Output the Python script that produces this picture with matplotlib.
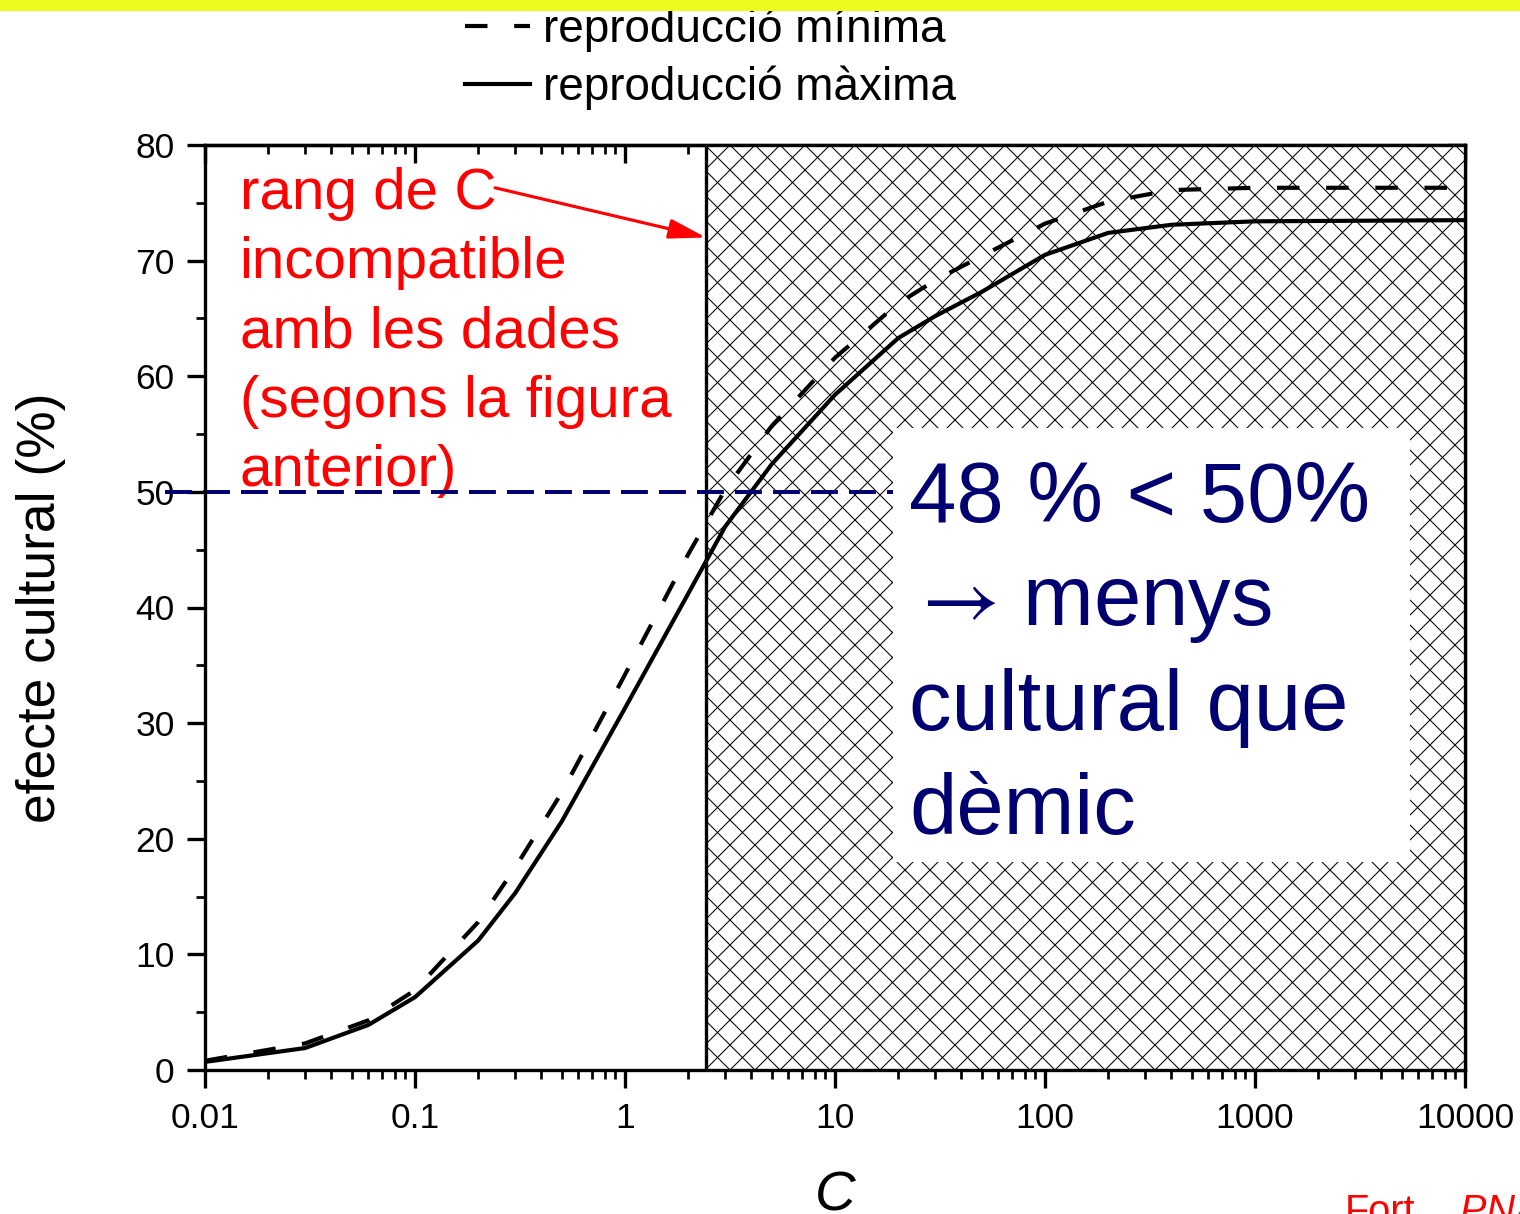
# -- Imports ------------------------------------------------------------------
import numpy as np
import matplotlib
matplotlib.use('Agg')
import matplotlib.pyplot as plt
from matplotlib.collections import LineCollection
from matplotlib.patches import Rectangle
from matplotlib.ticker import FixedLocator, LogLocator, MultipleLocator, NullFormatter, FuncFormatter

# -- Data ---------------------------------------------------------------------
c_values = [0.01, 0.03, 0.06, 0.1, 0.2, 0.3, 0.5, 1, 2, 3, 5, 10,
            20, 30, 50, 100, 200, 400, 1000, 10000]
effect_max = [0.7, 1.9, 3.9, 6.3, 11.2, 15.3, 21.5, 31.3, 41.2, 47.0, 52.4, 58.4,
              63.3, 65.2, 67.3, 70.5, 72.4, 73.1, 73.4, 73.5]
effect_min = [0.8, 2.3, 4.3, 6.9, 12.8, 17.5, 24.0, 34.2, 44.6, 50.2, 55.7, 61.6,
              66.3, 68.3, 70.4, 73.2, 75.1, 76.1, 76.3, 76.3]

x_ticks = [0.01, 0.1, 1, 10, 100, 1000, 10000]
legend_labels = ['reproducció mínima', 'reproducció màxima']
C_CUT = 2.43        # lower limit of the incompatible range
THRESHOLD = 50      # 50 % line

note_red = 'rang de C\nincompatible\namb les dades\n(segons la figura\nanterior)'
note_blue = '48 % < 50%\n$\\rightarrow\\,$menys\ncultural que\ndèmic'

NAVY = '#000070'
DPI = 150
AX_W, AX_H = 1260, 925      # axes size in pixels
HATCH_STEP = 25             # hatch period in pixels

# -- Figure -------------------------------------------------------------------
plt.rcParams['font.family'] = ['Liberation Sans', 'DejaVu Sans']
plt.rcParams['mathtext.fontset'] = 'stix'

fig = plt.figure(figsize=(1520 / DPI, 1214 / DPI), dpi=DPI)
ax = fig.add_axes([205 / 1520, 1 - 1070 / 1214, AX_W / 1520, AX_H / 1214])
ax.set_xscale('log')
ax.set_xlim(x_ticks[0], x_ticks[-1])
ax.set_ylim(0, 80)

# hatched region: white span + 45 degree cross lines clipped to it
span = ax.axvspan(C_CUT, x_ticks[-1], facecolor='white', edgecolor='none', zorder=1)
rise = AX_H / AX_W
step = HATCH_STEP / AX_W
segs = []
for a in np.arange(-rise, 1 + step, step):
    segs.append([(a, 0), (a + rise, 1)])
    segs.append([(a + rise, 0), (a, 1)])
hatch = LineCollection(segs, colors='black', linewidths=0.5,
                       transform=ax.transAxes, zorder=2)
ax.add_collection(hatch)
hatch.set_clip_path(span)
ax.axvline(C_CUT, color='black', lw=1.6, zorder=3)

# curves
ax.plot(c_values, effect_min, color='black', lw=2.0, dashes=(5.4, 6.4),
        label=legend_labels[0], zorder=4)
ax.plot(c_values, effect_max, color='black', lw=2.0,
        label=legend_labels[1], zorder=4)

# 50 % reference line
ax.axhline(THRESHOLD, xmin=-0.032, xmax=0.6, color=NAVY, lw=1.9,
           dashes=(6.8, 2.8), clip_on=False, zorder=6)

# white box + blue note
ax.add_patch(Rectangle((0.546, 0.2249), 0.4103, 0.4692, transform=ax.transAxes,
                       facecolor='white', edgecolor='none', zorder=7))
ax.text(22.5, 52.76, note_blue, color=NAVY, fontsize=40.8, linespacing=1.375,
        ha='left', va='top', zorder=8)

# red note and arrow
ax.text(0.0146, 78.1, note_red, color='red', fontsize=28, linespacing=1.365,
        ha='left', va='top', zorder=5)
ax.annotate('', xy=(C_CUT, 72), xytext=(0.2404, 76.3),
            arrowprops=dict(arrowstyle='-|>,head_length=0.75,head_width=0.2',
                            color='red', lw=1.5, mutation_scale=20,
                            shrinkA=0, shrinkB=0), zorder=9)

# -- Axes styling -------------------------------------------------------------
ax.xaxis.set_major_locator(FixedLocator(x_ticks))
ax.xaxis.set_minor_locator(LogLocator(base=10, subs=np.arange(2, 10), numticks=100))
ax.xaxis.set_major_formatter(FuncFormatter(lambda v, p: f'{v:g}'))
ax.xaxis.set_minor_formatter(NullFormatter())
ax.yaxis.set_major_locator(MultipleLocator(10))
ax.yaxis.set_minor_locator(MultipleLocator(5))

ax.tick_params(which='major', direction='out', length=8.6, width=1.6,
               labelsize=17, top=False, right=False)
ax.tick_params(which='minor', direction='out', length=4.3, width=1.3,
               top=False, right=False)
ax.tick_params(axis='x', which='major', pad=7)
ax.tick_params(axis='y', which='major', pad=6)
for s in ax.spines.values():
    s.set_linewidth(1.6)
    s.set_zorder(10)

top = ax.secondary_xaxis('top')
top.xaxis.set_major_locator(FixedLocator(x_ticks))
top.xaxis.set_minor_locator(LogLocator(base=10, subs=np.arange(2, 10), numticks=100))
top.tick_params(which='major', direction='in', length=8.6, width=1.6, labeltop=False)
top.tick_params(which='minor', direction='in', length=4.3, width=1.3)
top.spines['top'].set_linewidth(1.6)

right = ax.secondary_yaxis('right')
right.yaxis.set_major_locator(MultipleLocator(10))
right.yaxis.set_minor_locator(MultipleLocator(5))
right.tick_params(which='major', direction='in', length=8.6, width=1.6, labelright=False)
right.tick_params(which='minor', direction='in', length=4.3, width=1.3)
right.spines['right'].set_linewidth(1.6)

ax.set_xlabel('C', fontsize=27, style='italic', labelpad=17)
ax.set_ylabel('efecte cultural (%)', fontsize=25.6, labelpad=33)

# legend above the plot
fig.legend(loc='upper left', bbox_to_anchor=(465 / 1520, 1 - 8 / 1214),
           frameon=False, fontsize=22, handlelength=1.42, handletextpad=0.28,
           labelspacing=0.28, borderpad=0, borderaxespad=0)

# reference, cut at the bottom edge as in the original slide
fig.text(1345 / 1520, 1 - 1223 / 1214, 'Fort,', color='red', fontsize=19,
         va='baseline')
fig.text(1460 / 1520, 1 - 1223 / 1214, 'PNAS 2012', color='red', fontsize=19,
         style='italic', va='baseline')

# yellow band at the top
fig.add_artist(Rectangle((0, 1 - 11 / 1214), 1, 11 / 1214, transform=fig.transFigure,
                         facecolor='#ecfc1e', edgecolor='none', zorder=10))

fig.savefig('out.png', dpi=DPI)
